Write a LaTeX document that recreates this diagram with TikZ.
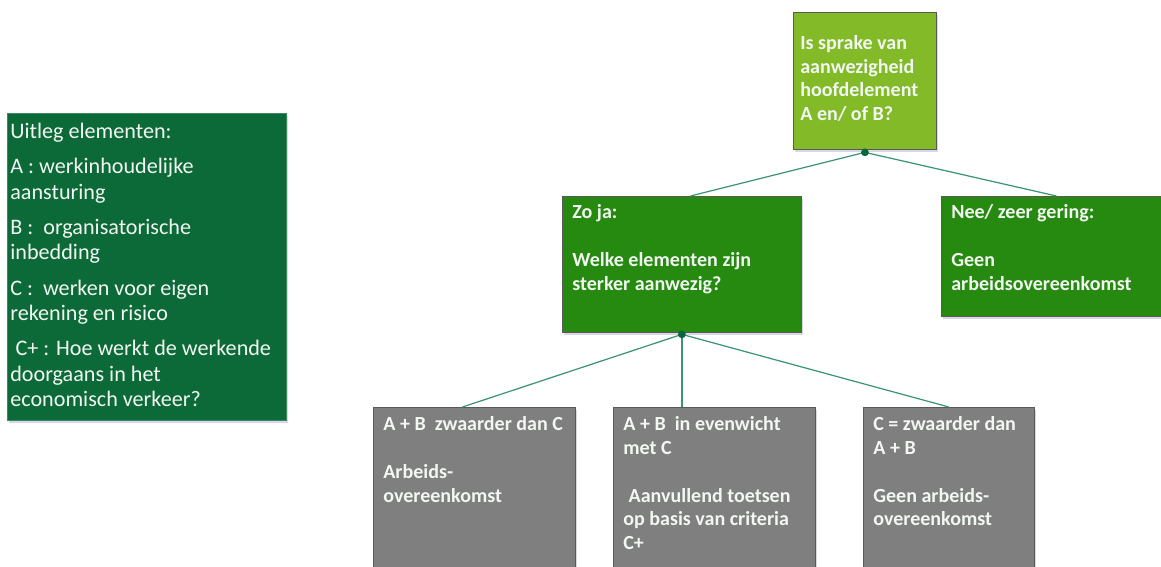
\documentclass[tikz,border=0pt]{standalone}
\usepackage{fontspec}
\setmainfont{Carlito}
\usepackage{xcolor}
\usetikzlibrary{shadows}

\definecolor{legendgreen}{RGB}{12,106,56}
\definecolor{topgreen}{RGB}{130,186,40}
\definecolor{midgreen}{RGB}{38,137,16}
\definecolor{boxgray}{RGB}{127,127,127}
\definecolor{txtwhite}{RGB}{242,247,242}
\definecolor{linkgreen}{RGB}{60,148,118}
\definecolor{dotgreen}{RGB}{10,100,60}

\tikzset{
  box/.style={rectangle, draw=black!65, line width=0.5pt, anchor=north west, inner sep=0pt,
    drop shadow={shadow xshift=1pt, shadow yshift=-1.5pt, opacity=0.25, fill=blue!25!gray}},
  boxtext/.style={text=txtwhite, align=left, inner sep=0pt, font=\fontsize{11.4}{13.5}\selectfont\bfseries},
  link/.style={linkgreen, line width=0.7pt},
}

\begin{document}
\begin{tikzpicture}[x=0.02cm, y=-0.02cm]
        \useasboundingbox (0,0) rectangle (1161,566);

        % boxes
        \node[box, fill=legendgreen, draw=legendgreen!80!white, minimum width=5.58cm, minimum height=6.14cm] (legend) at (7,113) {};
        \node[box, fill=topgreen, minimum width=2.86cm, minimum height=2.74cm] (vraag) at (793,12) {};
        \node[box, fill=midgreen, minimum width=4.78cm, minimum height=2.72cm] (zoja) at (562,196) {};
        \node[box, fill=midgreen, minimum width=4.6cm, minimum height=2.4cm] (nee) at (941,196) {};
        \node[box, fill=boxgray, minimum width=4.04cm, minimum height=3.4cm] (zwaarder) at (373,407) {};
        \node[box, fill=boxgray, minimum width=4.04cm, minimum height=3.4cm] (evenwicht) at (613,407) {};
        \node[box, fill=boxgray, minimum width=3.42cm, minimum height=3.4cm] (czwaarder) at (863,407) {};

        % texts
        \node[text=txtwhite, align=left, inner sep=0pt, anchor=north west, font=\fontsize{12.6}{14.5}\selectfont]
          (legendtxt) at ([xshift=0.06cm, yshift=-0.2cm]legend.north west)
          {Uitleg elementen:\\[5.5pt]
           A : werkinhoudelijke\\aansturing\\[5.5pt]
           B :\ \ organisatorische\\inbedding\\[5.5pt]
           C :\ \ werken voor eigen\\rekening en risico\\[5.5pt]
           \hspace{3pt}C+ : Hoe werkt de werkende\\doorgaans in het\\economisch verkeer?};
        \node[boxtext, anchor=west] (vraagtxt) at ([xshift=0.14cm, yshift=0.05cm]vraag.west)
          {Is sprake van\\aanwezigheid\\hoofdelement\\A en/ of B?};
        \node[boxtext, anchor=north west] (zojatxt) at ([xshift=0.2cm, yshift=-0.17cm]zoja.north west)
          {Zo ja:\\[13.5pt]Welke elementen zijn\\sterker aanwezig?};
        \node[boxtext, anchor=north west] (neetxt) at ([xshift=0.2cm, yshift=-0.17cm]nee.north west)
          {Nee/ zeer gering:\\[13.5pt]Geen\\arbeidsovereenkomst};
        \node[boxtext, anchor=north west] (zwaardertxt) at ([xshift=0.2cm, yshift=-0.19cm]zwaarder.north west)
          {A + B\ \ zwaarder dan C\\[13.5pt]Arbeids-\\overeenkomst};
        \node[boxtext, anchor=north west] (evenwichttxt) at ([xshift=0.2cm, yshift=-0.19cm]evenwicht.north west)
          {A + B\ \ in evenwicht\\met C\\[13.5pt]\hspace{3pt}Aanvullend toetsen\\op basis van criteria\\C+};
        \node[boxtext, anchor=north west] (czwaardertxt) at ([xshift=0.2cm, yshift=-0.19cm]czwaarder.north west)
          {C = zwaarder dan\\A + B\\[13.5pt]Geen arbeids-\\overeenkomst};

        % connectors
        \coordinate (vraagdot) at ([yshift=-0.05cm]vraag.south);
        \coordinate (zojadot) at ([yshift=-0.03cm]zoja.south);
        \draw[link] (vraagdot) -- ([xshift=0.17cm]zoja.north);
        \draw[link] (vraagdot) -- (nee.north);
        \draw[link] (zojadot) -- ([xshift=-0.24cm]zwaarder.north);
        \draw[link] (zojadot) -- (zojadot |- evenwicht.north);
        \draw[link] (zojadot) -- (czwaarder.north);
        \fill[dotgreen] (vraagdot) circle (2.2pt);
        \fill[dotgreen] (zojadot) circle (2.2pt);
\end{tikzpicture}
\end{document}
